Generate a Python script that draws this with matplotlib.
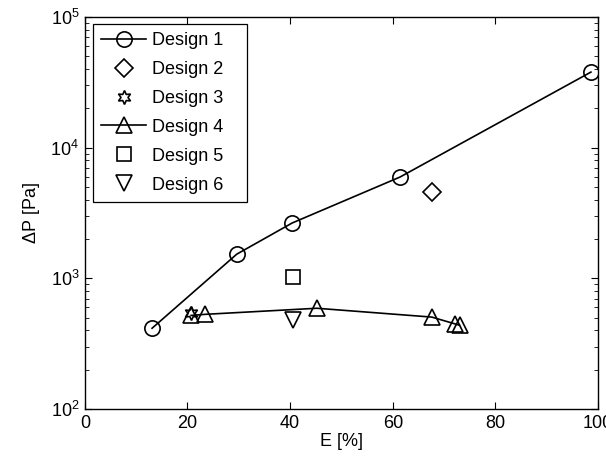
import numpy as np
import matplotlib.pyplot as plt
from matplotlib.ticker import LogLocator, NullFormatter

plt.rcParams['font.family'] = ['Liberation Sans', 'DejaVu Sans']
plt.rcParams['mathtext.fontset'] = 'custom'
plt.rcParams['mathtext.rm'] = 'Liberation Sans'

# efficiency E [%] and pressure drop dP [Pa] for each design
e1 = [13.1, 29.6, 40.4, 61.4, 98.6]
p1 = [415, 1530, 2650, 5950, 37800]
e2 = [67.6]
p2 = [4570]
e3 = [20.7]
p3 = [540]
e4 = [20.7, 23.4, 45.2, 67.6, 72.2, 73.0]
p4 = [520, 530, 590, 505, 447, 437]
e5 = [40.5]
p5 = [1015]
e6 = [40.5]
p6 = [480]

fig = plt.figure(figsize=(6.06, 4.68), dpi=100)
ax = fig.add_axes([0.140, 0.126, 0.847, 0.838])

fs = 13
kw = dict(color='k', mfc='none', mec='k', mew=1.2)
ax.plot(e1, p1, '-o', lw=1.2, ms=11, label='Design 1', **kw)
ax.plot(e2, p2, 'D', ls='none', ms=9, label='Design 2', **kw)
ax.plot(e3, p3, marker=(6, 1, 0), ls='none', ms=10, label='Design 3', **kw)
ax.plot(e4, p4, '-^', lw=1.2, ms=11, label='Design 4', **kw)
ax.plot(e5, p5, 's', ls='none', ms=9.5, label='Design 5', **kw)
ax.plot(e6, p6, 'v', ls='none', ms=11, label='Design 6', **kw)

ax.set_yscale('log')
ax.set_xlim(0, 100)
ax.set_ylim(1e2, 1e5)
ax.set_xticks([0, 20, 40, 60, 80, 100])
ax.yaxis.set_major_locator(LogLocator(base=10, numticks=10))
ax.yaxis.set_minor_locator(LogLocator(base=10, subs=np.arange(2, 10), numticks=10))
ax.yaxis.set_minor_formatter(NullFormatter())
ax.tick_params(which='both', direction='in', top=True, right=True, labelsize=fs, colors='k')
ax.tick_params(which='major', length=5, width=0.8, pad=4)
ax.tick_params(which='minor', length=3, width=0.6)
for s in ax.spines.values():
    s.set_linewidth(1.0)

ax.set_xlabel('E [%]', fontsize=fs, labelpad=1)
ax.set_ylabel('$\\Delta$P [Pa]', fontsize=fs, labelpad=6)

# legend box stretched to a fixed width in axes coordinates
leg = ax.legend(loc='upper left', bbox_to_anchor=(0.0156, 0.5, 0.300, 0.482), mode='expand',
                fontsize=fs, handlelength=2.5, labelspacing=0.66,
                borderpad=0.45, handletextpad=0.35, fancybox=False, edgecolor='k',
                framealpha=1, borderaxespad=0)
leg.get_frame().set_linewidth(0.9)

plt.savefig('out.png', dpi=100)
